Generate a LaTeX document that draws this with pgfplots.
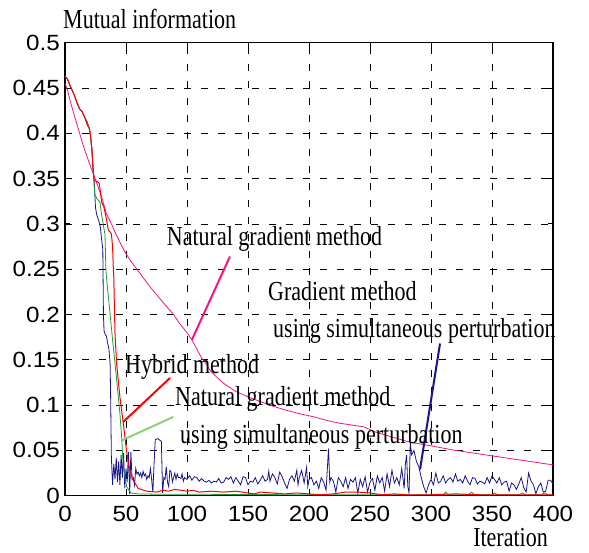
\documentclass[border=0pt]{standalone}
\usepackage{fontspec}
\setmainfont{Liberation Serif}
\setsansfont{Liberation Sans}
\usepackage{graphicx}
\usepackage{pgfplots}
\pgfplotsset{compat=1.18}

\definecolor{cblue}{RGB}{25,20,140}
\definecolor{cred}{RGB}{255,0,0}
\definecolor{cgreen}{RGB}{20,160,50}
\definecolor{lgreen}{RGB}{140,210,120}
\definecolor{cmag}{RGB}{245,20,135}
\newcommand{\lbl}[1]{\scalebox{1}[1.25]{\fontsize{22}{24}\selectfont #1}}
\newcommand{\sx}[1]{\scalebox{1.1}[1]{#1}}

\begin{document}
\begin{tikzpicture}
\begin{axis}[
  scale only axis, width=488pt, height=453pt,
  xmin=0, xmax=400, ymin=0, ymax=0.5,
  xtick={0,50,100,150,200,250,300,350,400},
  ytick={0,0.05,0.1,0.15,0.2,0.25,0.3,0.35,0.4,0.45,0.5},
  xticklabels={\sx{0},\sx{50},\sx{100},\sx{150},\sx{200},\sx{250},\sx{300},\sx{350},\sx{400}},
  yticklabels={\sx{0},\sx{0.05},\sx{0.1},\sx{0.15},\sx{0.2},\sx{0.25},\sx{0.3},\sx{0.35},\sx{0.4},\sx{0.45},\sx{0.5}},
  grid=major,
  major grid style={black, line width=0.6pt, dash pattern=on 7pt off 10pt},
  tick align=inside, major tick length=5pt,
  tick style={black, line width=0.8pt},
  axis line style={black, line width=1.5pt},
  ticklabel style={font=\fontsize{22}{22}\sffamily},
  xticklabel style={inner sep=0pt, yshift=-10pt},
  yticklabel style={inner sep=0pt, xshift=-5pt},
  clip=false,
]
% Natural gradient method (magenta)
\addplot[cmag, line width=0.8pt] coordinates {
(0,0.455) (2,0.448) (5,0.432) (8,0.418) (12,0.400) (16,0.382) (20,0.367) (23,0.356)
(26,0.345) (30,0.330) (34,0.311) (38,0.300) (42,0.288) (46,0.277) (50,0.267) (55,0.257)
(60,0.248) (65,0.239) (70,0.230) (75,0.222) (80,0.214) (85,0.206) (89,0.200) (94,0.190)
(100,0.180) (104,0.172) (108,0.162) (112,0.152) (116,0.145) (119,0.138) (125,0.130)
(130,0.124) (140,0.115) (152,0.108) (160,0.104) (170,0.099) (182,0.094) (194,0.090)
(204,0.087) (215,0.083) (225,0.080) (235,0.078) (245,0.076) (255,0.070) (270,0.064)
(283,0.059) (300,0.055) (320,0.050) (340,0.046) (360,0.042) (380,0.038) (400,0.034)
};
% Gradient method using simultaneous perturbation (blue)
\addplot[cblue, line width=0.8pt] coordinates {
(0,0.463) (2,0.460) (4,0.453) (6,0.447) (8,0.441) (10,0.433) (12,0.427) (14,0.424)
(16,0.418) (18,0.413) (20,0.405) (21,0.396) (22,0.382) (23,0.362) (24,0.345) (25,0.318)
(26,0.310) (28,0.302) (29,0.296) (30,0.283) (31,0.272) (31.5,0.200) (32,0.182) (33,0.178)
(34,0.176) (35,0.168) (36,0.162) (37,0.145) (37.5,0.100) (38,0.043) (39,0.012) (40,0.035)
(41,0.018) (42,0.042) (43,0.015) (44,0.038) (45,0.012) (46,0.045) (47,0.020) (48,0.047)
(49,0.008) (50,0.030) (51,0.015) (52,0.048) (53,0.002) (54,0.048) (55,0.018) (56,0.020)
(57,0.012) (58,0.030) (59,0.024) (60,0.026) (61,0.022) (62,0.025) (63,0.020) (64,0.027)
(65,0.022) (66,0.024) (67,0.018) (68,0.022) (69,0.020) (70,0.030) (71,0.018) (72,0.004)
(73,0.035) (74,0.062) (76,0.063) (78,0.061) (79,0.060) (80,0.003) (81,0.020) (82,0.018)
(83,0.032) (84,0.015) (85,0.010) (86,0.028) (87,0.026) (88,0.015) (89,0.020) (90,0.025)
(91,0.018) (92,0.024) (93,0.020) (94,0.020) (95,0.019) (96,0.024) (97,0.016) (98,0.020)
(100,0.018) (102,0.022) (103,0.020) (104,0.017) (106,0.021) (108,0.020) (110,0.016)
(112,0.019) (114,0.016) (116,0.015) (118,0.017) (120,0.014) (122,0.016) (124,0.015)
(126,0.019) (128,0.014) (130,0.015) (132,0.020) (134,0.018) (136,0.021) (138,0.014)
(140,0.020) (142,0.016) (144,0.012) (146,0.021) (148,0.020) (150,0.012) (152,0.016)
(154,0.015) (156,0.020) (158,0.013) (160,0.017) (162,0.022) (164,0.016) (166,0.018)
(167,0.027) (168,0.016) (170,0.024) (172,0.020) (174,0.013) (176,0.026) (178,0.021)
(180,0.014) (182,0.008) (184,0.018) (186,0.022) (188,0.016) (190,0.028) (191,0.012)
(192,0.020) (194,0.028) (196,0.014) (198,0.031) (199,0.010) (200,0.018) (202,0.020)
(204,0.012) (206,0.016) (208,0.008) (210,0.020) (212,0.015) (214,0.006) (216,0.052)
(217,0.015) (218,0.020) (220,0.016) (222,0.004) (224,0.020) (226,0.016) (228,0.010)
(230,0.020) (232,0.008) (234,0.018) (236,0.015) (238,0.020) (240,0.003) (242,0.018)
(244,0.010) (246,0.021) (248,0.004) (250,0.015) (252,0.019) (254,0.006) (256,0.022)
(258,0.014) (260,0.020) (262,0.005) (264,0.024) (266,0.010) (268,0.028) (270,0.014)
(272,0.020) (274,0.012) (276,0.030) (278,0.008) (279,0.035) (280,0.045) (281,0.010)
(282,0.003) (283,0.059) (284,0.045) (286,0.050) (288,0.038) (290,0.032) (292,0.020)
(294,0.010) (296,0.003) (298,0.012) (300,0.018) (302,0.012) (304,0.025) (306,0.014)
(308,0.016) (310,0.022) (312,0.014) (314,0.018) (316,0.020) (318,0.015) (320,0.024)
(322,0.016) (324,0.018) (326,0.014) (328,0.022) (330,0.016) (332,0.012) (334,0.020)
(336,0.019) (338,0.013) (340,0.016) (342,0.015) (344,0.013) (346,0.020) (348,0.014)
(350,0.022) (352,0.018) (354,0.014) (356,0.020) (358,0.012) (360,0.015) (362,0.016)
(364,0.005) (366,0.014) (368,0.012) (370,0.007) (372,0.013) (374,0.020) (376,0.009)
(378,0.004) (380,0.025) (382,0.016) (384,0.012) (386,0.002) (388,0.010) (390,0.014)
(392,0.004) (394,0.005) (396,0.017) (398,0.017) (400,0.013)
};
% Natural gradient method using simultaneous perturbation (green)
\addplot[cgreen, line width=0.8pt] coordinates {
(0,0.463) (2,0.460) (4,0.453) (6,0.447) (8,0.441) (10,0.433) (12,0.427) (14,0.424)
(16,0.418) (18,0.413) (20,0.405) (21,0.396) (22,0.382) (23,0.362) (24,0.340) (24.6,0.332)
(26,0.328) (28.7,0.324) (30,0.310) (32.8,0.288) (33.5,0.250) (34.2,0.238) (36.9,0.201)
(39.6,0.164) (42.4,0.127) (45,0.091) (46.4,0.065) (47.8,0.032) (50.5,0.010) (54,0.003)
(60,0.002) (80,0.0015) (120,0.0015) (200,0.001) (310,0.001) (312,0.004) (314,0.001)
(331,0.001) (333,0.004) (336,0.001) (350,0.001) (352,0.003) (355,0.001) (372,0.001)
(375,0.003) (378,0.001) (390,0.001) (393,0.003) (396,0.001) (400,0.001)
};
% Hybrid method (red)
\addplot[cred, line width=1pt] coordinates {
(0,0.463) (2,0.460) (4,0.453) (6,0.447) (8,0.441) (10,0.433) (12,0.427) (14,0.424)
(16,0.418) (18,0.410) (20,0.405) (21,0.396) (22,0.384) (23,0.360) (24,0.348) (26,0.347)
(28,0.345) (29,0.336) (30,0.324) (32,0.318) (34,0.305) (35.5,0.293) (37,0.291) (38,0.289)
(39,0.275) (39.6,0.251) (40,0.240) (41,0.178) (42.3,0.146) (45,0.109) (47.8,0.080)
(50.4,0.050) (53,0.028) (56,0.017) (60,0.008) (67,0.005) (75,0.004) (80,0.006) (85,0.005)
(90,0.007) (95,0.006) (100,0.005) (105,0.006) (110,0.004) (120,0.005) (130,0.004)
(140,0.005) (150,0.003) (155,0.002) (160,0.004) (170,0.003) (180,0.002) (190,0.003)
(200,0.002) (210,0.001) (220,0.002) (230,0.004) (240,0.004) (250,0.003) (260,0.001)
(270,0.002) (280,0.001) (300,0.001) (320,0.002) (340,0.001) (360,0.001) (400,0.001)
};
% pointer lines
\addplot[cmag, line width=2pt] coordinates {(135.2,0.264) (104,0.172)};
\addplot[cblue, line width=2pt] coordinates {(307.4,0.168) (291,0.029)};
\addplot[cred, line width=2pt] coordinates {(86.1,0.130) (47.8,0.0815)};
\addplot[lgreen, line width=2pt] coordinates {(88.8,0.087) (46.5,0.061)};
% annotations
\node[anchor=base west, inner sep=0pt] at (axis cs:83.4,0.2765) {\lbl{Natural gradient method}};
\node[anchor=base west, inner sep=0pt] at (axis cs:166.4,0.2158) {\lbl{Gradient method}};
\node[anchor=base west, inner sep=0pt] at (axis cs:170.5,0.1746) {\lbl{using simultaneous perturbation}};
\node[anchor=base west, inner sep=0pt] at (axis cs:49.2,0.135) {\lbl{Hybrid method}};
\node[anchor=base west, inner sep=0pt] at (axis cs:90.2,0.0999) {\lbl{Natural gradient method}};
\node[anchor=base west, inner sep=0pt] at (axis cs:94.3,0.0576) {\lbl{using simultaneous perturbation}};
% axis titles
\node[anchor=base west, inner sep=0pt] at ([xshift=-2pt,yshift=14.4pt]rel axis cs:0,1) {\lbl{Mutual information}};
\node[anchor=base east, inner sep=0pt] at ([xshift=-5pt,yshift=-51pt]rel axis cs:1,0) {\lbl{Iteration}};
\coordinate (bl) at (rel axis cs:0,0);
\coordinate (tr) at (rel axis cs:1,1);
\end{axis}
\pgfresetboundingbox
\path ([xshift=-65pt,yshift=-56.5pt]bl) rectangle ([xshift=36pt,yshift=42.7pt]tr);
\end{tikzpicture}
\end{document}
